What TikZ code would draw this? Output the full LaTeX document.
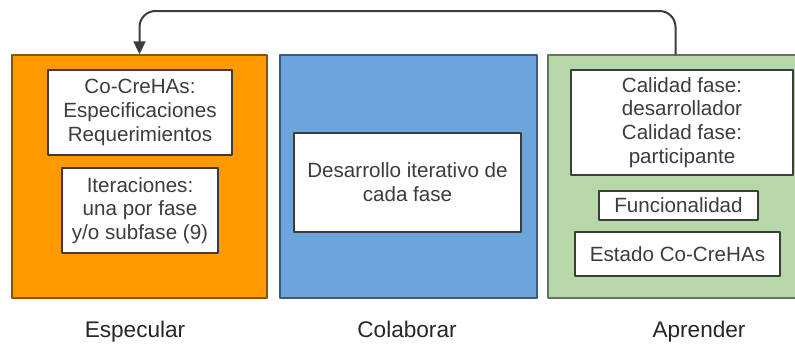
\documentclass[tikz,border=0pt]{standalone}
\usepackage{fontspec}
\setmainfont{Liberation Sans}
\usetikzlibrary{arrows.meta}
\definecolor{specfill}{RGB}{255,153,0}
\definecolor{colabfill}{RGB}{108,165,220}
\definecolor{aprfill}{RGB}{182,215,168}
\definecolor{ink}{RGB}{60,60,60}

\tikzset{
  phase/.style={draw=#1!55!black,fill=#1,line width=0.7pt,minimum height=121.5pt,inner sep=0pt},
  item/.style={draw=ink,fill=white,line width=0.7pt,align=center,inner sep=0pt,text=ink,
    font=\fontsize{10.3}{11.9}\selectfont},
  tag/.style={anchor=base,text=black!85,font=\fontsize{11.3}{13}\selectfont}
}

\begin{document}
\begin{tikzpicture}[x=0.5pt,y=-0.5pt,line cap=round,line join=round]
  \useasboundingbox (0,0) rectangle (795,343);
  \coordinate (Top) at (400,11);

  \node[phase=specfill,minimum width=127.5pt] (E) at (139.5,176.5) {};
  \node[phase=colabfill,minimum width=128.5pt] (C) at (408.5,176.5) {};
  \node[phase=aprfill,minimum width=127.5pt] (A) at (675.5,176.5) {};

  \node[item,minimum width=92pt,minimum height=42.5pt] (E1) at (140,112.5)
    {Co-CreHAs:\\Especificaciones\\Requerimientos};
  \node[item,minimum width=78pt,minimum height=42.5pt] (E2) at (140,210.5)
    {Iteraciones:\\una por fase\\y/o subfase (9)};
  \node[item,minimum width=113.5pt,minimum height=49.5pt] (C1) at (407.5,182.5)
    {Desarrollo iterativo de\\cada fase};
  \node[item,minimum width=111pt,minimum height=52.5pt] (A1) at (682,122.5)
    {Calidad fase:\\desarrollador\\Calidad fase:\\participante};
  \node[item,minimum width=79.5pt,minimum height=14.5pt] (A2) at (678.5,205.5)
    {Funcionalidad};
  \node[item,minimum width=102.5pt,minimum height=22pt] (A3) at (677.5,254)
    {Estado Co-CreHAs};

  \node[tag] (tE) at (135,337) {Especular};
  \node[tag] (tC) at (407,337) {Colaborar};
  \node[tag] (tA) at (699,337) {Aprender};

  \draw[ink,line width=1pt,rounded corners=8pt,-{Triangle[width=6pt,length=6.5pt]}]
    (A.north) |- (Top) -| (E.north);
\end{tikzpicture}
\end{document}
